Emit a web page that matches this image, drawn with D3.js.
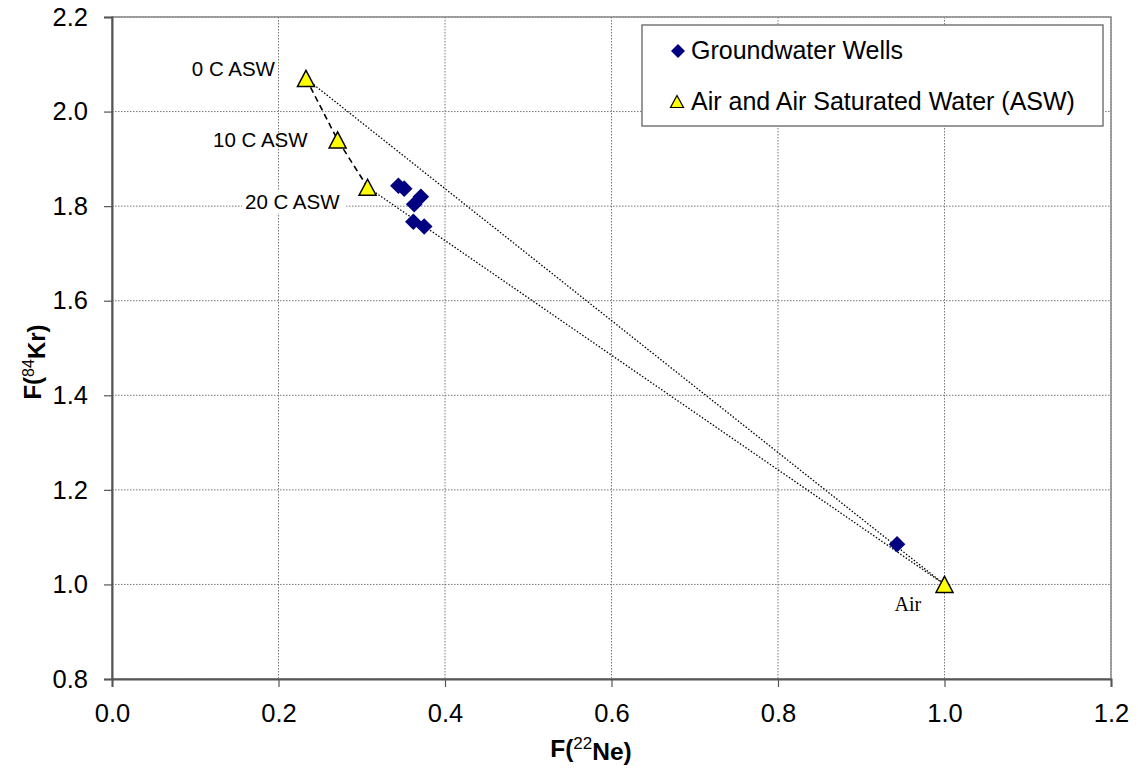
<!DOCTYPE html>
<html>
<head>
<meta charset="utf-8">
<script src="https://cdn.jsdelivr.net/npm/d3@7"></script>
<style>
  body { margin: 0; background: #fff; }
  svg { display: block; font-family: Arial, "Liberation Sans", sans-serif; }
</style>
</head>
<body>
<svg id="chart" width="1138" height="774"></svg>
<script>
// Groundwater well samples (F(22Ne), F(84Kr))
const wellNe = [0.344, 0.351, 0.371, 0.363, 0.362, 0.375, 0.943];
const wellKr = [1.843, 1.837, 1.820, 1.804, 1.767, 1.757, 1.085];

// Air and air saturated water end members
const aswNames = ["0 C ASW", "10 C ASW", "20 C ASW", "Air"];
const aswNe = [0.233, 0.271, 0.307, 1.0];
const aswKr = [2.070, 1.940, 1.840, 1.0];

const xTicks = [0.0, 0.2, 0.4, 0.6, 0.8, 1.0, 1.2];
const yTicks = [0.8, 1.0, 1.2, 1.4, 1.6, 1.8, 2.0, 2.2];

const legendLabels = ["Groundwater Wells", "Air and Air Saturated Water (ASW)"];

const margin = { top: 17, right: 27, bottom: 95, left: 112 };
const width = 1138 - margin.left - margin.right;
const height = 774 - margin.top - margin.bottom;

const svg = d3.select("#chart");
const g = svg.append("g").attr("transform", `translate(${margin.left},${margin.top})`);

const x = d3.scaleLinear().domain([0, 1.2]).range([0, width]);
const y = d3.scaleLinear().domain([0.8, 2.2]).range([height, 0]);

// gridlines
g.append("g").selectAll("line").data(xTicks).enter().append("line")
  .attr("x1", d => x(d)).attr("x2", d => x(d))
  .attr("y1", 0).attr("y2", height)
  .attr("stroke", "#777").attr("stroke-width", 1).attr("stroke-dasharray", "1.5,1.5");
g.append("g").selectAll("line").data(yTicks).enter().append("line")
  .attr("x1", 0).attr("x2", width)
  .attr("y1", d => y(d)).attr("y2", d => y(d))
  .attr("stroke", "#777").attr("stroke-width", 1).attr("stroke-dasharray", "1.5,1.5");

// plot frame
g.append("rect").attr("width", width).attr("height", height)
  .attr("fill", "none").attr("stroke", "#888").attr("stroke-width", 1.5);

// axes
const xAxis = g.append("g").attr("transform", `translate(0,${height})`)
  .call(d3.axisBottom(x).tickValues(xTicks).tickFormat(d3.format(".1f")).tickSize(8).tickPadding(17));
const yAxis = g.append("g")
  .call(d3.axisLeft(y).tickValues(yTicks).tickFormat(d3.format(".1f")).tickSize(8).tickPadding(16));
[xAxis, yAxis].forEach(a => {
  a.select(".domain").attr("stroke", "#555").attr("stroke-width", 2);
  a.selectAll(".tick line").attr("stroke", "#555").attr("stroke-width", 1.2);
  a.selectAll(".tick text").attr("fill", "#000").style("font-size", "25.5px").style("font-family", "Arial, 'Liberation Sans', sans-serif");
});

// mixing lines: ASW end members to air
const air = [aswNe[3], aswKr[3]];
[0, 2].forEach(i => {
  g.append("line")
    .attr("x1", x(aswNe[i])).attr("y1", y(aswKr[i]))
    .attr("x2", x(air[0])).attr("y2", y(air[1]))
    .attr("stroke", "#000").attr("stroke-width", 1.3).attr("stroke-dasharray", "1.5,1.8");
});

// ASW temperature line
g.append("path")
  .datum(d3.range(3))
  .attr("d", d3.line().x(i => x(aswNe[i])).y(i => y(aswKr[i])))
  .attr("fill", "none").attr("stroke", "#000").attr("stroke-width", 1.6).attr("stroke-dasharray", "6,4");

const diamondPath = r => `M0,${-r}L${r},0L0,${r}L${-r},0Z`;
const trianglePath = (w, h) => `M0,${-h / 2}L${w / 2},${h / 2}L${-w / 2},${h / 2}Z`;

// ASW markers
g.append("g").selectAll("path").data(d3.range(aswNe.length)).enter().append("path")
  .attr("transform", i => `translate(${x(aswNe[i])},${y(aswKr[i])})`)
  .attr("d", trianglePath(17, 16))
  .attr("fill", "#ffff00").attr("stroke", "#000").attr("stroke-width", 1.5);

// well markers
g.append("g").selectAll("path").data(d3.range(wellNe.length)).enter().append("path")
  .attr("transform", i => `translate(${x(wellNe[i])},${y(wellKr[i])})`)
  .attr("d", diamondPath(8.3))
  .attr("fill", "#000080");

// end member labels
const labelOffsets = [[-31, -2], [-30, 7], [-28, 22]];
[0, 1, 2].forEach(i => {
  const lx = x(aswNe[i]) + labelOffsets[i][0];
  const ly = y(aswKr[i]) + labelOffsets[i][1];
  const t = g.append("text")
    .attr("x", lx).attr("y", ly)
    .attr("text-anchor", "end")
    .style("font-size", "20.5px")
    .text(aswNames[i]);
  if (i === 2) {
    const bb = t.node().getBBox();
    g.insert("rect", () => t.node())
      .attr("x", bb.x - 3).attr("y", bb.y).attr("width", bb.width + 9).attr("height", bb.height)
      .attr("fill", "#fff");
  }
});
g.append("text")
  .attr("x", x(aswNe[3]) - 50).attr("y", y(aswKr[3]) + 27)
  .style("font-family", "'Times New Roman', 'Liberation Serif', serif")
  .style("font-size", "20px")
  .text(aswNames[3]);

// legend
const legend = svg.append("g").attr("transform", "translate(642,25)");
legend.append("rect").attr("width", 461).attr("height", 101)
  .attr("fill", "#fff").attr("stroke", "#777").attr("stroke-width", 1.5);
legend.append("path").attr("transform", "translate(36,26)").attr("d", diamondPath(7)).attr("fill", "#000080");
legend.append("path").attr("transform", "translate(35,76.5)").attr("d", trianglePath(13, 12))
  .attr("fill", "#ffff00").attr("stroke", "#000").attr("stroke-width", 1.2);
legend.selectAll("text.lg").data(legendLabels).enter().append("text")
  .attr("class", "lg")
  .attr("x", 49).attr("y", (d, i) => 33.5 + i * 51)
  .style("font-size", "25px")
  .text(d => d);

// axis titles
const xt = svg.append("text")
  .attr("x", 591).attr("y", 757)
  .attr("text-anchor", "middle")
  .style("font-size", "24.5px").style("font-weight", "bold");
xt.append("tspan").text("F(");
xt.append("tspan").attr("dy", "-0.45em").style("font-size", "17px").style("font-weight", "normal").text("22");
xt.append("tspan").attr("dy", "0.45em").text("Ne)");

const yt = svg.append("text")
  .attr("transform", "translate(41,362) rotate(-90)")
  .attr("text-anchor", "middle")
  .style("font-size", "24px").style("font-weight", "bold");
yt.append("tspan").text("F(");
yt.append("tspan").attr("dy", "-0.45em").style("font-size", "16px").style("font-weight", "normal").text("84");
yt.append("tspan").attr("dy", "0.45em").text("Kr)");
</script>
</body>
</html>
